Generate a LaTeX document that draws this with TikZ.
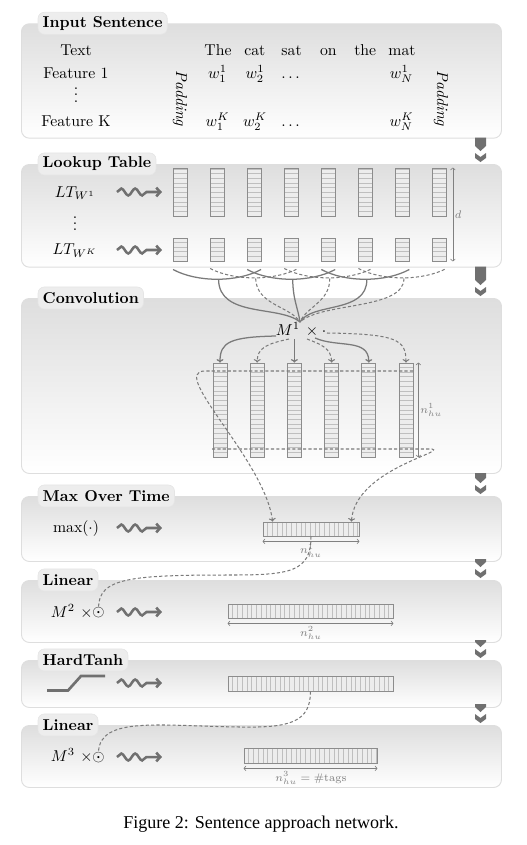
\documentclass[tikz,border=0pt]{standalone}
\usepackage{fontspec}
\newfontfamily\capfont{Liberation Serif}
\usetikzlibrary{decorations.pathmorphing,arrows.meta,calc}
\newcommand\pxu{0.635pt}
\colorlet{conn}{black!52}
\colorlet{boxdraw}{black!45}
\colorlet{boxfill}{black!7}
\colorlet{cellline}{black!25}
\colorlet{flowfill}{black!56}
\colorlet{dimcol}{black!50}
\tikzset{
  x=0.635pt, y=-0.635pt,
  txt/.style={inner sep=1pt},
  panel/.style={draw=black!13, line width=0.6pt, rounded corners=5pt, top color=black!13, bottom color=white, anchor=north west, minimum width=480*\pxu, inner sep=0pt},
  tab/.style={fill=black!7, draw=black!10, line width=0.4pt, rounded corners=4pt, font=\bfseries, inner xsep=3pt, inner ysep=0pt, minimum height=14pt, anchor=west},
  vcol/.style={draw=boxdraw, fill=boxfill, line width=0.5pt, minimum width=14*\pxu, inner sep=0pt,
    path picture={\foreach \cl in {1,...,45}{\draw[cellline, line width=0.3pt] ([yshift=\cl*3pt]path picture bounding box.south west) -- ([yshift=\cl*3pt]path picture bounding box.south east);}}},
  hbox/.style={draw=boxdraw, fill=boxfill, line width=0.5pt, inner sep=0pt,
    path picture={\foreach \cl in {1,...,45}{\draw[cellline, line width=0.3pt] ([xshift=\cl*3pt]path picture bounding box.south west) -- ([xshift=\cl*3pt]path picture bounding box.north west);}}},
  dim/.style={draw=dimcol, line width=0.4pt, {To[length=1.6pt,width=3.2pt]}-{To[length=1.6pt,width=3.2pt]}},
  dimlabel/.style={text=dimcol, font=\scriptsize, inner sep=1pt},
  solidconn/.style={draw=conn, line width=0.8pt},
  dashconn/.style={draw=conn, line width=0.65pt, dash pattern=on 2pt off 1.4pt},
  tipped/.style={-{To[length=2.2pt,width=4.4pt]}},
  squig/.style={draw=black!56, line width=1.6pt, -{Straight Barb[length=2.6pt,width=5.6pt]}, decorate, decoration={snake, amplitude=2.2pt, segment length=8.8pt, post length=8pt}},
  icon/.style={draw=black!56, line width=1.7pt},
  flow/.style={fill=flowfill},
}
\newcommand\flowarrow[2]{%
  \fill[flow] (475,#1) -- (486,#1) -- (486,{#2-18}) -- (480.5,{#2-13}) -- (475,{#2-18}) -- cycle;
  \fill[flow] (475,{#2-11}) -- (480.5,{#2-7}) -- (486,{#2-11}) -- (486,{#2-6}) -- (480.5,{#2-2}) -- (475,{#2-6}) -- cycle;}
\begin{document}
\begin{tikzpicture}
\useasboundingbox (0,0) rectangle (527,845);
% panels
\node[panel, minimum height=114.4*\pxu] (p1) at (21,23.3) {};
\node[panel, minimum height=102.7*\pxu] (p2) at (21,164) {};
\node[panel, minimum height=175*\pxu] (p3) at (21,298) {};
\node[panel, minimum height=65*\pxu] (p4) at (21,496) {};
\node[panel, minimum height=62*\pxu] (p5) at (21,580) {};
\node[panel, minimum height=47*\pxu] (p6) at (21,660) {};
\node[panel, minimum height=62*\pxu] (p7) at (21,725) {};
% flow arrows
\flowarrow{137.7}{164}
\flowarrow{266.7}{298}
\flowarrow{473}{496}
\flowarrow{559}{580}
\flowarrow{640}{660}
\flowarrow{704}{725}
% tabs
\node[tab] (t1) at (37.7,23.3) {Input Sentence};
\node[tab] (t2) at (37.7,164) {Lookup Table};
\node[tab] (t3) at (37.7,298) {Convolution};
\node[tab] (t4) at (37.7,496) {Max Over Time};
\node[tab] (t5) at (37.7,580) {Linear};
\node[tab] (t6) at (37.7,660) {HardTanh};
\node[tab] (t7) at (37.7,725) {Linear};
% input sentence
\node[txt, anchor=base] (lblText) at (76,55) {Text};
\node[txt, anchor=base] (lblF1) at (76,78.5) {Feature 1};
\node[txt, anchor=base] (lblvd) at (76,102) {$\vdots$};
\node[txt, anchor=base] (lblFK) at (76,126.5) {Feature K};
\foreach \w/\wx [count=\i] in {The/218,cat/254.8,sat/291.6,on/328.4,the/365.2,mat/402}
  \node[txt, anchor=base] (word\i) at (\wx,55) {\w};
\node[txt, anchor=base] (f1a) at (217.5,78.5) {$w_1^1$};
\node[txt, anchor=base] (f1b) at (255,78.5) {$w_2^1$};
\node[txt, anchor=base] (f1c) at (290.5,78.5) {$\dots$};
\node[txt, anchor=base] (f1n) at (401.5,78.5) {$w_N^1$};
\node[txt, anchor=base] (fKa) at (217.5,126.5) {$w_1^K$};
\node[txt, anchor=base] (fKb) at (255,126.5) {$w_2^K$};
\node[txt, anchor=base] (fKc) at (290.5,126.5) {$\dots$};
\node[txt, anchor=base] (fKn) at (401.5,126.5) {$w_N^K$};
\node[txt, rotate=-90] (padL) at (180,98.5) {\textit{Padding}};
\node[txt, rotate=-90] (padR) at (441,98.5) {\textit{Padding}};
% lookup table
\node[txt, anchor=base] (lt1) at (75,197) {$LT_{W^1}$};
\node[txt, anchor=base] (ltv) at (75,230.7) {$\vdots$};
\node[txt, anchor=base] (ltK) at (75,254.5) {$LT_{W^K}$};
\draw[squig] (117,192) -- (162,192);
\draw[squig] (117,250) -- (162,250);
\foreach \i in {1,...,8}{
  \pgfmathsetmacro\cx{180+37.07*(\i-1)}
  \node[vcol, minimum height=48*\pxu] (la\i) at (\cx,192) {};
  \node[vcol, minimum height=23*\pxu] (lb\i) at (\cx,249.5) {};
}
\draw[dim] ($(la8.north east)+(6,0)$) -- ($(lb8.south east)+(6,0)$) node[midway, right, dimlabel] {$d$};
% windows
\foreach \c in {2,4,6}{
  \pgfmathsetmacro\cx{180+37.07*(\c-1)}
  \draw[solidconn] ({\cx-44},269.5) .. controls ({\cx-20},282.5) and ({\cx+20},282.5) .. ({\cx+44},269.5);
  \coordinate (w\c) at ({\cx+1.5},279.5);
}
\foreach \c in {3,5,7}{
  \pgfmathsetmacro\cx{180+37.07*(\c-1)}
  \draw[dashconn] ({\cx-44},268.5) .. controls ({\cx-20},281) and ({\cx+20},281) .. ({\cx+44},268.5);
  \coordinate (w\c) at ({\cx+1.5},278.5);
}
% convolution
\coordinate (cv) at (300,322);
\draw[solidconn] (w2) .. controls (219,318) and (280,305) .. (cv);
\draw[dashconn] (w3) .. controls (256.5,305) and (290,306) .. (cv);
\draw[solidconn] (w4) .. controls (293,300) and (298,308) .. (cv);
\draw[dashconn] (w5) .. controls (330,302) and (306,307) .. (cv);
\draw[solidconn] (w6) .. controls (367,314) and (312,302) .. (cv);
\draw[dashconn] (w7) .. controls (404,310) and (322,302) .. (cv);
\node[txt, anchor=base] (m1) at (288,335) {$M^1$};
\node[txt, anchor=base] (x1) at (312,335) {$\times$};
\node[txt, anchor=base] (dot1) at (324,335) {$\cdot$};
\foreach \i in {1,...,6}{
  \pgfmathsetmacro\cx{220+37.2*(\i-1)}
  \node[vcol, minimum height=94*\pxu] (c\i) at (\cx,410) {};
}
\draw[dim] ($(c6.north east)+(5,0)$) -- ($(c6.south east)+(5,0)$) node[midway, right, dimlabel] {$n^1_{hu}$};
\draw[solidconn, tipped] (276,336) .. controls (230,337) and (220,342) .. (c1.north);
\draw[dashconn, tipped] (289,339) .. controls (266,344) and (257.2,348) .. (c2.north);
\draw[solidconn, tipped] (294.4,339) -- (c3.north);
\draw[dashconn, tipped] (307,339) .. controls (320,344) and (331.6,348) .. (c4.north);
\draw[solidconn, tipped] (315,338) .. controls (338,348) and (368.8,338) .. (c5.north);
\draw[dashconn, tipped] (327,333) .. controls (398,334) and (406,340) .. (c6.north);
% max over time
\node[txt] (maxlbl) at (76,528.5) {$\max(\cdot)$};
\draw[squig] (117,528) -- (162,528);
\node[hbox, minimum width=96*\pxu, minimum height=14*\pxu] (mx) at (311,529) {};
\draw[dim] ($(mx.south west)+(0,5)$) -- ($(mx.south east)+(0,5)$);
\node[dimlabel] (mxlbl) at (311,550.5) {$n^1_{hu}$};
\draw[dashconn, tipped] (413,371) -- (205,371) .. controls (168,371) and (265,460) .. ($(mx.north west)+(10,0)$);
\draw[dashconn, tipped] (212,449) -- (432,449) .. controls (447,452) and (355,470) .. ($(mx.north east)+(-8,0)$);
% linear 1
\node[txt, anchor=base] (m2) at (63,617) {$M^2$};
\node[txt, anchor=base] (x2) at (86.5,617) {$\times$};
\node[inner sep=0pt] (o2) at (98.5,613) {$\odot$};
\draw[squig] (117,612) -- (162,612);
\node[hbox, minimum width=165*\pxu, minimum height=14*\pxu] (l2) at (310.5,611) {};
\draw[dim] ($(l2.south west)+(0,5)$) -- ($(l2.south east)+(0,5)$);
\node[dimlabel] (l2lbl) at (311,633) {$n^2_{hu}$};
\draw[dashconn] (mx.south) .. controls (311,572) and (290,575) .. (230,575) .. controls (130,575) and (99,578) .. (o2.north);
% hardtanh
\draw[icon] (47,690.5) -- (68,690.5) -- (81,676) -- (105,676);
\draw[squig] (117,683) -- (162,683);
\node[hbox, minimum width=165*\pxu, minimum height=15*\pxu] (ht) at (310.5,683.5) {};
% linear 2
\node[txt, anchor=base] (m3) at (63,761.5) {$M^3$};
\node[txt, anchor=base] (x3) at (86.5,761.5) {$\times$};
\node[inner sep=0pt] (o3) at (98.5,757.5) {$\odot$};
\draw[squig] (117,757) -- (162,757);
\node[hbox, minimum width=133*\pxu, minimum height=15*\pxu] (l3) at (310.5,755.5) {};
\draw[dim] ($(l3.south west)+(0,5)$) -- ($(l3.south east)+(0,5)$);
\node[dimlabel] (l3lbl) at (311,778) {$n^3_{hu} = \#$tags};
\draw[dashconn] (ht.south) .. controls (310.5,722) and (290,728) .. (240,727) .. controls (160,726) and (100,716) .. (o3.north);
% caption
\node[anchor=base, font=\capfont\fontsize{11.45pt}{14pt}\selectfont] (cap) at (261,828.5) {Figure 2: Sentence approach network.};
\end{tikzpicture}
\end{document}
